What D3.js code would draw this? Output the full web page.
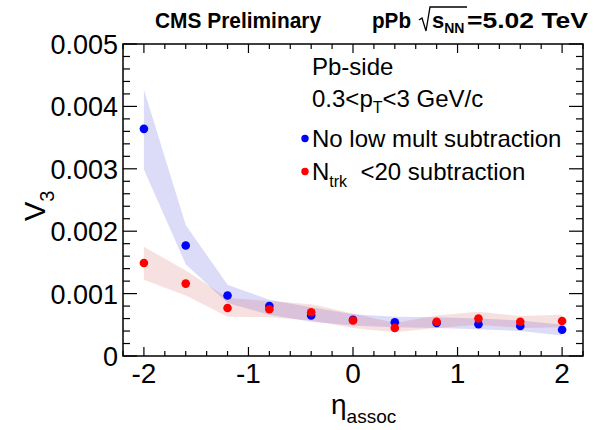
<!DOCTYPE html>
<html>
<head>
<meta charset="utf-8">
<script src="https://cdn.jsdelivr.net/npm/d3@7"></script>
<style>
  body { margin: 0; background: #fff; }
  text { font-family: "Liberation Sans", Arial, Helvetica, sans-serif; }
</style>
</head>
<body>
<div id="svgdiv"></div>
<script>
var width = 599, height = 430;

// eta bins
var eta = [-2, -1.6, -1.2, -0.8, -0.4, 0, 0.4, 0.8, 1.2, 1.6, 2];

// v3, no low mult subtraction (blue)
var v3Blue   = [0.00364, 0.00177, 0.00097, 0.00080, 0.00065, 0.00058, 0.00054, 0.00053, 0.00051, 0.00048, 0.00042];
var blueLo   = [0.00299, 0.00147, 0.00085, 0.00066, 0.00055, 0.00049, 0.00046, 0.00045, 0.00043, 0.00040, 0.00033];
var blueHi   = [0.00427, 0.00210, 0.00114, 0.00090, 0.00078, 0.00067, 0.00063, 0.00062, 0.00060, 0.00057, 0.00050];

// v3, Ntrk<20 subtraction (red)
var v3Red    = [0.00149, 0.00116, 0.00077, 0.00075, 0.00070, 0.00057, 0.00045, 0.00055, 0.00060, 0.00055, 0.00056];
var redLo    = [0.00122, 0.00097, 0.00063, 0.00062, 0.00057, 0.00045, 0.00038, 0.00045, 0.00050, 0.00045, 0.00046];
var redHi    = [0.00175, 0.00137, 0.00093, 0.00088, 0.00083, 0.00068, 0.00053, 0.00065, 0.00071, 0.00064, 0.00066];

var xTicks = [-2, -1, 0, 1, 2];
var yTicks = [0, 0.001, 0.002, 0.003, 0.004, 0.005];
var yTickLabels = ["0", "0.001", "0.002", "0.003", "0.004", "0.005"];

var margin = {left: 123, right: 16, top: 44, bottom: 74};

var svg = d3.select("#svgdiv")
  .append("svg")
  .attr("width", width)
  .attr("height", height);

var x = d3.scaleLinear()
  .domain([-2.2, 2.2])
  .range([margin.left, width - margin.right]);

var y = d3.scaleLinear()
  .domain([0, 0.005])
  .range([height - margin.bottom, margin.top]);

function makeRows(lo, hi) {
  return eta.map(function(e, i){ return {x: e, lo: lo[i], hi: hi[i]}; });
}

var band = d3.area()
  .x((d) => x(d.x))
  .y0((d) => y(d.lo))
  .y1((d) => y(d.hi));

svg.append("path")
  .datum(makeRows(blueLo, blueHi))
  .attr("d", band)
  .attr("fill", "rgb(60,60,215)")
  .attr("fill-opacity", 0.18);

svg.append("path")
  .datum(makeRows(redLo, redHi))
  .attr("d", band)
  .attr("fill", "rgb(205,60,60)")
  .attr("fill-opacity", 0.16);

svg.append("g")
  .selectAll("circle")
  .data(eta.map((e, i) => ({x: e, v: v3Blue[i]})))
  .enter().append("circle")
  .attr("cx", (d) => x(d.x))
  .attr("cy", (d) => y(d.v))
  .attr("r", 4.3)
  .attr("fill", "#0000ff");

svg.append("g")
  .selectAll("circle")
  .data(eta.map((e, i) => ({x: e, v: v3Red[i]})))
  .enter().append("circle")
  .attr("cx", (d) => x(d.x))
  .attr("cy", (d) => y(d.v))
  .attr("r", 4.3)
  .attr("fill", "#ff0000");

// frame + ticks (ROOT style, ticks inside on all sides)
var x0 = x.range()[0], x1 = x.range()[1], y0 = y.range()[0], y1 = y.range()[1];

var xMinor = d3.range(-22, 23, 2).map((d) => d / 10);
var yMinor = d3.range(0, 26).map((d) => d * 0.0002);

var ticks = svg.append("g").attr("stroke", "#000").attr("stroke-width", 1.2);

xMinor.forEach(function(t){
  var major = Math.abs(t - Math.round(t)) < 1e-6;
  var len = major ? 9 : 5;
  ticks.append("line").attr("x1", x(t)).attr("x2", x(t)).attr("y1", y0).attr("y2", y0 - len);
  ticks.append("line").attr("x1", x(t)).attr("x2", x(t)).attr("y1", y1).attr("y2", y1 + len);
});

yMinor.forEach(function(t){
  var major = Math.abs(t / 0.001 - Math.round(t / 0.001)) < 1e-6;
  var len = major ? 14 : 7;
  ticks.append("line").attr("x1", x0).attr("x2", x0 + len).attr("y1", y(t)).attr("y2", y(t));
  ticks.append("line").attr("x1", x1).attr("x2", x1 - len).attr("y1", y(t)).attr("y2", y(t));
});

svg.append("rect")
  .attr("x", x0).attr("y", y1)
  .attr("width", x1 - x0).attr("height", y0 - y1)
  .attr("fill", "none")
  .attr("stroke", "#000")
  .attr("stroke-width", 1.5);

// tick labels
svg.append("g").selectAll("text")
  .data(xTicks)
  .enter().append("text")
  .attr("x", (d) => x(d))
  .attr("y", y0 + 27)
  .attr("text-anchor", "middle")
  .style("font-size", "28px")
  .text((d) => d);

svg.append("g").selectAll("text")
  .data(yTicks)
  .enter().append("text")
  .attr("x", x0 - 5)
  .attr("y", (d) => y(d) + 10)
  .attr("text-anchor", "end")
  .style("font-size", "27px")
  .text((d, i) => yTickLabels[i]);

// axis titles
var xt = svg.append("text")
  .attr("x", 331)
  .attr("y", 414)
  .style("font-size", "28px");
xt.append("tspan").text("\u03b7");
xt.append("tspan").attr("dy", 9).style("font-size", "19px").text("assoc");

var yt = svg.append("text")
  .attr("transform", "translate(45,221) rotate(-90)")
  .style("font-size", "29px");
yt.append("tspan").text("V");
yt.append("tspan").attr("dy", 9).style("font-size", "20px").text("3");

// title
svg.append("text")
  .attr("x", 155).attr("y", 28)
  .attr("textLength", 166).attr("lengthAdjust", "spacingAndGlyphs")
  .style("font-size", "22px").style("font-weight", "bold")
  .text("CMS Preliminary");

svg.append("text")
  .attr("x", 372).attr("y", 28)
  .attr("textLength", 39).attr("lengthAdjust", "spacingAndGlyphs")
  .style("font-size", "22px").style("font-weight", "bold")
  .text("pPb");

var rootX = 419;
svg.append("path")
  .attr("d", "M" + rootX + ",20 L" + (rootX + 3) + ",18 L" + (rootX + 7) + ",31 L" + (rootX + 11) + ",7 L" + (rootX + 48) + ",7")
  .attr("fill", "none").attr("stroke", "#000").attr("stroke-width", 1.3);

var t3 = svg.append("text")
  .attr("x", rootX + 13).attr("y", 28)
  .style("font-size", "22px").style("font-weight", "bold");
t3.append("tspan").text("s");
t3.append("tspan").attr("dy", 5).style("font-size", "14px").text("NN");

svg.append("text")
  .attr("x", rootX + 48).attr("y", 28)
  .attr("textLength", 121).attr("lengthAdjust", "spacingAndGlyphs")
  .style("font-size", "22px").style("font-weight", "bold")
  .text("=5.02 TeV");

// legend text
svg.append("text").attr("x", 312).attr("y", 75).style("font-size", "24px").text("Pb-side");

var pt = svg.append("text").attr("x", 312).attr("y", 107).style("font-size", "24px");
pt.append("tspan").text("0.3<p");
pt.append("tspan").attr("dy", 6).style("font-size", "16px").text("T");
pt.append("tspan").attr("dy", -6).text("<3 GeV/c");

var legendNames = ["No low mult subtraction", "N_trk <20 subtraction"];
var legendColors = ["#0000ff", "#ff0000"];
var legendY = [147, 180];

legendNames.forEach(function(name, i){
  svg.append("circle")
    .attr("cx", 305).attr("cy", legendY[i] - 8.5)
    .attr("r", 3.7).attr("fill", legendColors[i]);
  var lt = svg.append("text").attr("x", 312).attr("y", legendY[i]).style("font-size", "24px");
  if (name.indexOf("_") >= 0) {
    lt.append("tspan").text("N");
    lt.append("tspan").attr("dy", 7).style("font-size", "16px").text("trk");
    lt.append("tspan").attr("dy", -7).text("\u00a0\u00a0<20 subtraction");
  } else {
    lt.text(name);
  }
});
</script>
</body>
</html>
